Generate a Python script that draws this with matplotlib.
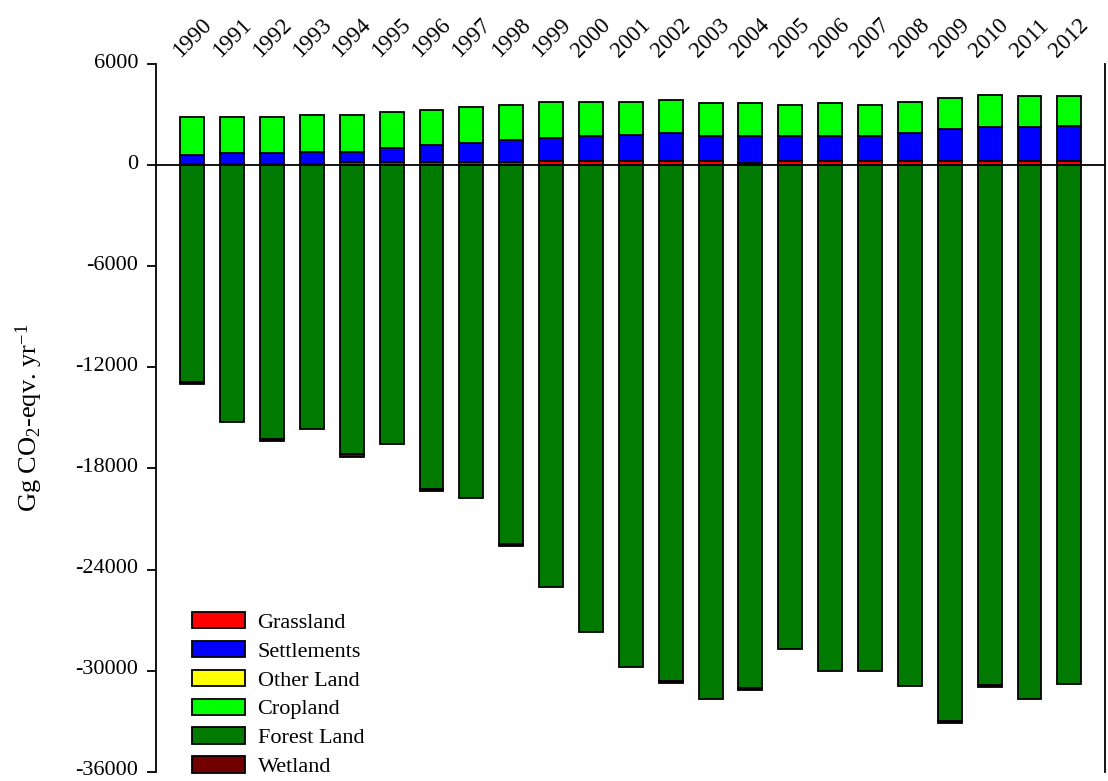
import numpy as np
import matplotlib
matplotlib.use("Agg")
import matplotlib.pyplot as plt
from matplotlib.transforms import ScaledTranslation

plt.rcParams["font.family"] = "Liberation Serif"
plt.rcParams["font.size"] = 16
plt.rcParams["axes.unicode_minus"] = False
plt.rcParams["mathtext.fontset"] = "custom"
plt.rcParams["mathtext.rm"] = "Liberation Serif"
plt.rcParams["mathtext.it"] = "Liberation Serif:italic"

years = list(range(1990, 2013))

# Gg CO2-eqv. per year, by land-use category
forest_land = [-12870, -15240, -16230, -15660, -17160, -16570, -19200, -19730,
               -22460, -25020, -27680, -29760, -30610, -31680, -31030, -28730,
               -30040, -30040, -30890, -32990, -30830, -31680, -30770]
wetland = [-130, 0, -130, 0, -130, 0, -130, 0, -130, 0, 0, 0,
           -140, 0, -140, 0, 0, 0, 0, -140, -130, 0, 0]
grassland = [60, 60, 60, 60, 170, 170, 170, 170, 170, 270, 270, 270,
             270, 270, 120, 270, 270, 270, 270, 270, 270, 270, 270]
settlements = [530, 650, 650, 740, 610, 830, 1030, 1130, 1340, 1360, 1450, 1540,
               1660, 1450, 1600, 1450, 1450, 1450, 1660, 1860, 1980, 1980, 2060]
other_land = [0] * 23
cropland = [2260, 2140, 2140, 2160, 2180, 2140, 2060, 2150, 2060, 2120, 2050, 1960,
            1960, 1950, 1950, 1830, 1950, 1830, 1840, 1840, 1920, 1830, 1750]

series = [
    ("Forest Land", forest_land, "#007a00"),
    ("Wetland", wetland, "#730000"),
    ("Grassland", grassland, "#ff0000"),
    ("Settlements", settlements, "#0000ff"),
    ("Other Land", other_land, "#ffff00"),
    ("Cropland", cropland, "#00ff00"),
]
legend_order = ["Grassland", "Settlements", "Other Land", "Cropland", "Forest Land", "Wetland"]

fig = plt.figure(figsize=(11.08, 7.81), dpi=100)
ax = fig.add_axes([0.1405, 0.0118, 0.857, 0.9062])

x = np.arange(len(years))
pos_bottom = np.zeros(len(years))
neg_bottom = np.zeros(len(years))
handles = {}
for name, vals, color in series:
    v = np.array(vals, dtype=float)
    bottom = np.where(v >= 0, pos_bottom, neg_bottom)
    bars = ax.bar(x, v, 0.6, bottom=bottom, color=color, edgecolor="black",
                  linewidth=1.3, label=name, zorder=2)
    handles[name] = bars
    pos_bottom = pos_bottom + np.where(v > 0, v, 0)
    neg_bottom = neg_bottom + np.where(v < 0, v, 0)

ax.axhline(0, color="black", linewidth=1.3, zorder=3)

ax.set_xlim(-0.92, 22.9)
ax.set_ylim(-36000, 6000)
ax.set_yticks(np.arange(-36000, 6001, 6000))

ax.xaxis.tick_top()
ax.set_xticks(x)
ax.set_xticklabels([str(y) for y in years], rotation=45, fontsize=16.5)
ax.tick_params(axis="x", length=0, pad=2)
ax.tick_params(axis="y", length=6.5, width=1.3, pad=6)

# nudge the y tick labels up a little so the lowest one stays inside the figure
lift = ScaledTranslation(0, 2.5 / 72, fig.dpi_scale_trans)
for tick in ax.yaxis.get_major_ticks():
    tick.label1.set_transform(tick.label1.get_transform() + lift)

ax.spines["top"].set_visible(False)
ax.spines["bottom"].set_visible(False)
ax.spines["left"].set_linewidth(1.3)
ax.spines["right"].set_linewidth(1.3)

ax.set_ylabel("Gg CO$_2$-eqv. yr$^{-1}$", fontsize=19, labelpad=22)

ax.legend([handles[n] for n in legend_order], legend_order, loc="upper left",
          bbox_to_anchor=(0.1733, 0.2165), bbox_transform=fig.transFigure,
          frameon=False, borderpad=0, borderaxespad=0, handlelength=2.4,
          handleheight=0.75, handletextpad=0.55, labelspacing=0.36)

fig.savefig("out.png", dpi=100)
